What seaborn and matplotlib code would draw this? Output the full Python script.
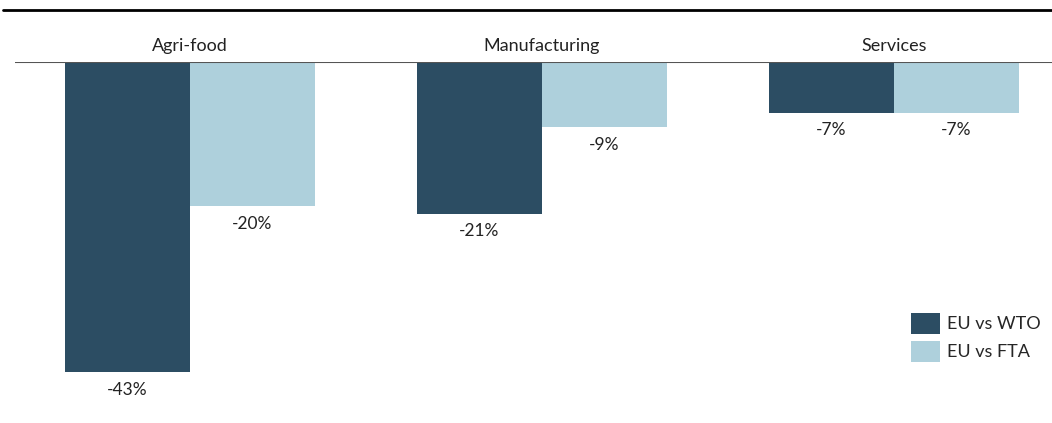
"""Trade cost impact by sector"""
import pandas as pd
import matplotlib.pyplot as plt
import seaborn as sns
from matplotlib.lines import Line2D
from matplotlib.patches import Patch

sns.set_style("white")
plt.rcParams['font.family'] = ['Lato', 'DejaVu Sans']

# Data
sectors = ['Agri-food', 'Manufacturing', 'Services']
scenarios = ['EU vs WTO', 'EU vs FTA']
wto_values = [-43, -21, -7]
fta_values = [-20, -9, -7]
colors = ['#2c4d63', '#aed0dc']

df = pd.DataFrame({
    'sector': sectors * 2,
    'scenario': [scenarios[0]] * 3 + [scenarios[1]] * 3,
    'value': wto_values + fta_values,
})

fig = plt.figure(figsize=(10.52, 4.23), dpi=100)
ax = fig.add_axes([15 / 1052, 0, 1 - 15 / 1052, 1 - 62 / 423])

sns.barplot(data=df, x='sector', y='value', hue='scenario', palette=colors,
            width=0.71, saturation=1, linewidth=0, ax=ax, legend=False)

ax.set_xlim(-0.497, 2.449)
ax.set_ylim(-50.0, 0)
ax.axis('off')

# zero line
ax.axhline(0, color='#555555', linewidth=1.5, zorder=5)

# value labels below bars
for container in ax.containers:
    ax.bar_label(container, labels=[f'{v:.0f}%' for v in container.datavalues],
                 padding=7, fontsize=12.5, color='#222222')

# category labels above the zero line
for i, s in enumerate(sectors):
    ax.text(i, 1.1, s, ha='center', va='bottom', fontsize=13, color='#222222')

# top rule
fig.add_artist(Line2D([3 / 1052, 1], [1 - 10 / 423, 1 - 10 / 423],
                      color='black', linewidth=2))

handles = [Patch(facecolor=c, edgecolor='none') for c in colors]
ax.legend(handles, scenarios, loc='lower right', bbox_to_anchor=(1.0, 0.14),
          frameon=False, fontsize=13, handlelength=1.6, handleheight=1.4,
          handletextpad=0.4, labelspacing=0.4, borderaxespad=0.2)

plt.savefig('out.png', dpi=100)
